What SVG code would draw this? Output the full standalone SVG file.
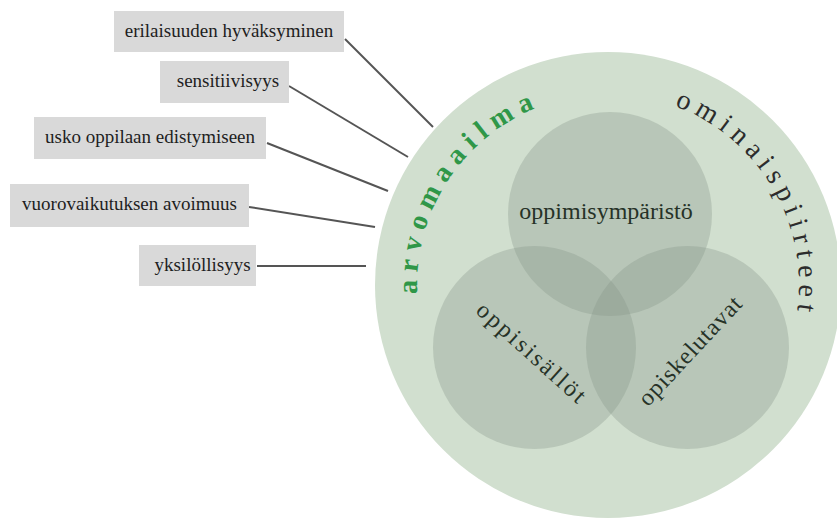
<svg xmlns="http://www.w3.org/2000/svg" xmlns:xlink="http://www.w3.org/1999/xlink" width="837" height="525" viewBox="0 0 837 525">
  <style>
    .box { fill: #d9d9d9; }
    .label { font-family: "Liberation Serif", "Times New Roman", serif; font-size: 19px; fill: #1e1e1e; text-anchor: middle; }
    .link { stroke: #555555; stroke-width: 2; fill: none; }
    .ring { fill: #d1dfcf; }
    .set { fill: #86958a; fill-opacity: 0.33; }
    .setname { font-family: "Liberation Serif", "Times New Roman", serif; font-size: 24px; fill: #263227; text-anchor: middle; }
    .arc-green { font-family: "Liberation Serif", "Times New Roman", serif; font-size: 28px; font-weight: bold; fill: #2f9748; }
    .arc-dark { font-family: "Liberation Serif", "Times New Roman", serif; font-size: 28px; fill: #2c2c2c; }
  </style>
  <defs>
    <!-- baseline circle for the curved words, clockwise from 160deg to 20deg -->
    <path id="rim" d="M 428.52 350.33 A 191 191 0 1 1 787.48 350.33"/>
  </defs>

  <!-- outer field -->
  <g id="field">
    <circle class="ring" cx="608" cy="285" r="233"/>
    <text class="arc-green" letter-spacing="7.5"><textPath xlink:href="#rim" startOffset="57.7">arvomaailma</textPath></text>
    <text class="arc-dark" letter-spacing="6.4"><textPath xlink:href="#rim" startOffset="434.4">ominaispiirteet</textPath></text>
  </g>

  <!-- three overlapping sets -->
  <g id="oppimisymparisto">
    <circle class="set" cx="610" cy="214" r="102"/>
    <text class="setname" x="606" y="219">oppimisympäristö</text>
  </g>
  <g id="oppisisallot">
    <circle class="set" cx="534.5" cy="347.5" r="101.5"/>
    <text class="setname" letter-spacing="2.5" transform="translate(527,359) rotate(42)">oppisisällöt</text>
  </g>
  <g id="opiskelutavat">
    <circle class="set" cx="687.5" cy="347.5" r="101.5"/>
    <text class="setname" letter-spacing="1" transform="translate(696,356) rotate(-47)">opiskelutavat</text>
  </g>

  <!-- connectors from the value labels to the outer field -->
  <g id="connectors">
    <line class="link" x1="345" y1="39" x2="433" y2="127"/>
    <line class="link" x1="289" y1="86" x2="408" y2="157"/>
    <line class="link" x1="267" y1="143" x2="388" y2="191"/>
    <line class="link" x1="249" y1="207" x2="375" y2="227"/>
    <line class="link" x1="257" y1="266" x2="366" y2="266"/>
  </g>

  <!-- value labels -->
  <g id="erilaisuuden-hyvaksyminen">
    <rect class="box" x="114" y="11" width="230" height="41"/>
    <text class="label" x="229" y="37">erilaisuuden hyväksyminen</text>
  </g>
  <g id="sensitiivisyys">
    <rect class="box" x="160" y="61" width="129" height="42"/>
    <text class="label" x="228" y="87">sensitiivisyys</text>
  </g>
  <g id="usko-oppilaan-edistymiseen">
    <rect class="box" x="34" y="117" width="232" height="42"/>
    <text class="label" x="150" y="143">usko oppilaan edistymiseen</text>
  </g>
  <g id="vuorovaikutuksen-avoimuus">
    <rect class="box" x="10" y="184" width="239" height="43"/>
    <text class="label" x="129.5" y="210">vuorovaikutuksen avoimuus</text>
  </g>
  <g id="yksilollisyys">
    <rect class="box" x="139" y="245" width="117" height="41"/>
    <text class="label" x="202.5" y="271">yksilöllisyys</text>
  </g>
</svg>
